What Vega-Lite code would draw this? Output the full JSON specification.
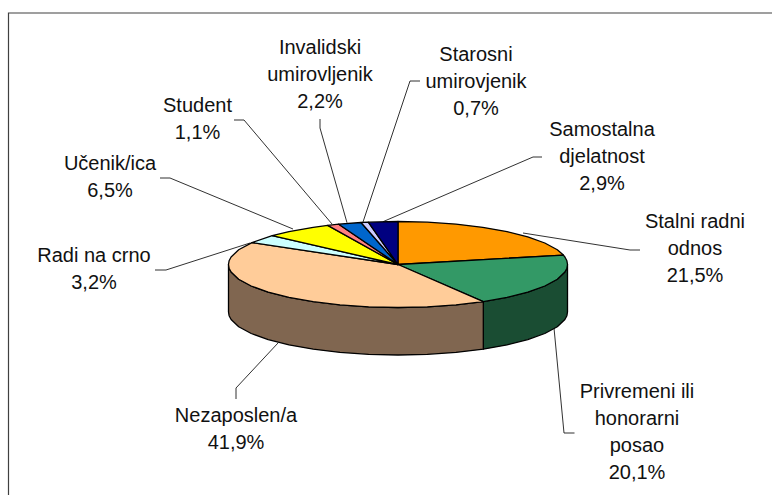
{"$schema":"https://vega.github.io/schema/vega-lite/v6.json","width":772,"height":495,"padding":0,"background":"white","config":{"view":{"stroke":null}},
"projection":{"type":"identity","reflectY":true,"scale":1,"translate":[398,264.5]},
"layer":[
{"data":{"values":[
{"type":"Feature","properties":{"name":"frame"},"geometry":{"type":"LineString","coordinates":[[-389.5,-231],[-389.5,251.5],[374.5,251.5]]}}
]},"mark":{"type":"geoshape","filled":false,"stroke":"#404040","strokeWidth":1.2},"encoding":{}},
{"data":{"values":[
{"type":"Feature","properties":{"name":"Stalni radni odnos"},"geometry":{"type":"LineString","coordinates":[[125,31.5],[232,14.5],[242,14.5]]}},
{"type":"Feature","properties":{"name":"Samostalna djelatnost"},"geometry":{"type":"LineString","coordinates":[[-15,42.8],[135,107.5],[144,107.5]]}},
{"type":"Feature","properties":{"name":"Starosni umirovjenik"},"geometry":{"type":"LineString","coordinates":[[-35,42.5],[12,183.5],[22,183.5]]}},
{"type":"Feature","properties":{"name":"Invalidski umirovljenik"},"geometry":{"type":"LineString","coordinates":[[-51,41.8],[-78,136.5],[-78,145.5]]}},
{"type":"Feature","properties":{"name":"Student"},"geometry":{"type":"LineString","coordinates":[[-66,40.5],[-154,144.5],[-164,144.5]]}},
{"type":"Feature","properties":{"name":"Učenik/ica"},"geometry":{"type":"LineString","coordinates":[[-105,35.5],[-228,86.5],[-238,86.5]]}},
{"type":"Feature","properties":{"name":"Radi na crno"},"geometry":{"type":"LineString","coordinates":[[-148,21.5],[-232,-5.5],[-243,-5.5]]}},
{"type":"Feature","properties":{"name":"Nezaposlen/a"},"geometry":{"type":"LineString","coordinates":[[-120,-78.5],[-162,-123.5],[-162,-134.5]]}},
{"type":"Feature","properties":{"name":"Privremeni ili honorarni posao"},"geometry":{"type":"LineString","coordinates":[[156,-63.5],[166,-168.5],[176.5,-168.5]]}}
]},"mark":{"type":"geoshape","filled":false,"stroke":"#1a1a1a","strokeWidth":0.9},"encoding":{}},
{"data":{"values":[
{"type":"Feature","properties":{"name":"Privremeni ili honorarni posao, side","share":20.1},"geometry":{"type":"Polygon","coordinates":[[[169.5,0],[168.9,-3.7],[166.9,-7.5],[159.3,-14.7],[146.8,-21.5],[129.8,-27.6],[109,-32.9],[85.3,-37.2],[85.3,-84.7],[109,-80.4],[129.8,-75.1],[146.8,-69],[159.3,-62.2],[166.9,-55],[168.9,-51.2],[169.5,-47.5],[169.5,0]]]}},
{"type":"Feature","properties":{"name":"Nezaposlen/a, side","share":41.9},"geometry":{"type":"Polygon","coordinates":[[[85.3,-37.2],[58,-40.4],[29.4,-42.3],[0,-43],[-29.4,-42.3],[-58,-40.4],[-84.8,-37.2],[-109,-32.9],[-129.8,-27.6],[-146.8,-21.5],[-159.3,-14.7],[-166.9,-7.5],[-168.9,-3.7],[-169.5,0],[-169.5,-47.5],[-168.9,-51.2],[-166.9,-55],[-159.3,-62.2],[-146.8,-69],[-129.8,-75.1],[-109,-80.4],[-84.8,-84.7],[-58,-87.9],[-29.4,-89.8],[0,-90.5],[29.4,-89.8],[58,-87.9],[85.3,-84.7],[85.3,-37.2]]]}},
{"type":"Feature","properties":{"name":"Stalni radni odnos","share":21.5},"geometry":{"type":"Polygon","coordinates":[[[0,0],[0,43],[29.4,42.3],[58,40.4],[84.8,37.2],[109,32.9],[129.8,27.6],[146.8,21.5],[159.3,14.7],[165.4,9.4],[0,0]]]}},
{"type":"Feature","properties":{"name":"Privremeni ili honorarni posao","share":20.1},"geometry":{"type":"Polygon","coordinates":[[[0,0],[165.4,9.4],[166.9,7.5],[168.9,3.7],[169.5,0],[168.9,-3.7],[166.9,-7.5],[159.3,-14.7],[146.8,-21.5],[129.8,-27.6],[109,-32.9],[85.3,-37.2],[0,0]]]}},
{"type":"Feature","properties":{"name":"Nezaposlen/a","share":41.9},"geometry":{"type":"Polygon","coordinates":[[[0,0],[85.3,-37.2],[58,-40.4],[29.4,-42.3],[0,-43],[-29.4,-42.3],[-58,-40.4],[-84.8,-37.2],[-109,-32.9],[-129.8,-27.6],[-146.8,-21.5],[-159.3,-14.7],[-166.9,-7.5],[-168.9,-3.7],[-169.5,0],[-168.9,3.7],[-166.9,7.5],[-159.3,14.7],[-146,21.9],[0,0]]]}},
{"type":"Feature","properties":{"name":"Radi na crno","share":3.2},"geometry":{"type":"Polygon","coordinates":[[[0,0],[-146,21.9],[-125.8,28.8],[0,0]]]}},
{"type":"Feature","properties":{"name":"Učenik/ica","share":6.5},"geometry":{"type":"Polygon","coordinates":[[[0,0],[-125.8,28.8],[-109,32.9],[-84.8,37.2],[-70.3,39.1],[0,0]]]}},
{"type":"Feature","properties":{"name":"Student","share":1.1},"geometry":{"type":"Polygon","coordinates":[[[0,0],[-70.3,39.1],[-59.3,40.3],[0,0]]]}},
{"type":"Feature","properties":{"name":"Invalidski umirovljenik","share":2.2},"geometry":{"type":"Polygon","coordinates":[[[0,0],[-59.3,40.3],[-37,42],[0,0]]]}},
{"type":"Feature","properties":{"name":"Starosni umirovjenik","share":0.7},"geometry":{"type":"Polygon","coordinates":[[[0,0],[-37,42],[-29.7,42.3],[0,0]]]}},
{"type":"Feature","properties":{"name":"Samostalna djelatnost","share":2.9},"geometry":{"type":"Polygon","coordinates":[[[0,0],[-29.7,42.3],[0,43],[0,0]]]}}
]},"mark":{"type":"geoshape","stroke":"black","strokeWidth":1.3,"strokeJoin":"round"},
"encoding":{"color":{"field":"properties.name","type":"nominal","legend":null,"sort":null,
"scale":{"domain":["Stalni radni odnos","Privremeni ili honorarni posao","Nezaposlen/a","Radi na crno","Učenik/ica","Student","Invalidski umirovljenik","Starosni umirovjenik","Samostalna djelatnost","Privremeni ili honorarni posao, side","Nezaposlen/a, side"],
"range":["#FF9900","#339966","#FFCC99","#CCFFFF","#FFFF00","#FF8080","#0066CC","#CCCCFF","#000080","#1A4D33","#806650"]}}}},
{"data":{"values":[
{"label":"Invalidski\numirovljenik\n2,2%","lon":-78,"lat":210.5},
{"label":"Student\n1,1%","lon":-200.5,"lat":152.5},
{"label":"Učenik/ica\n6,5%","lon":-288,"lat":94.5},
{"label":"Starosni\numirovjenik\n0,7%","lon":78,"lat":203.5},
{"label":"Samostalna\ndjelatnost\n2,9%","lon":204,"lat":128.5},
{"label":"Stalni radni\nodnos\n21,5%","lon":297,"lat":36.5},
{"label":"Privremeni ili\nhonorarni\nposao\n20,1%","lon":239,"lat":-133.5},
{"label":"Nezaposlen/a\n41,9%","lon":-162,"lat":-157.5},
{"label":"Radi na crno\n3,2%","lon":-304,"lat":2.5}
]},"mark":{"type":"text","font":"Liberation Sans","fontSize":20,"color":"#111111","align":"center","baseline":"alphabetic","lineBreak":"\n","lineHeight":27},
"encoding":{"longitude":{"field":"lon","type":"quantitative"},"latitude":{"field":"lat","type":"quantitative"},"text":{"field":"label","type":"nominal"}}}
]}
